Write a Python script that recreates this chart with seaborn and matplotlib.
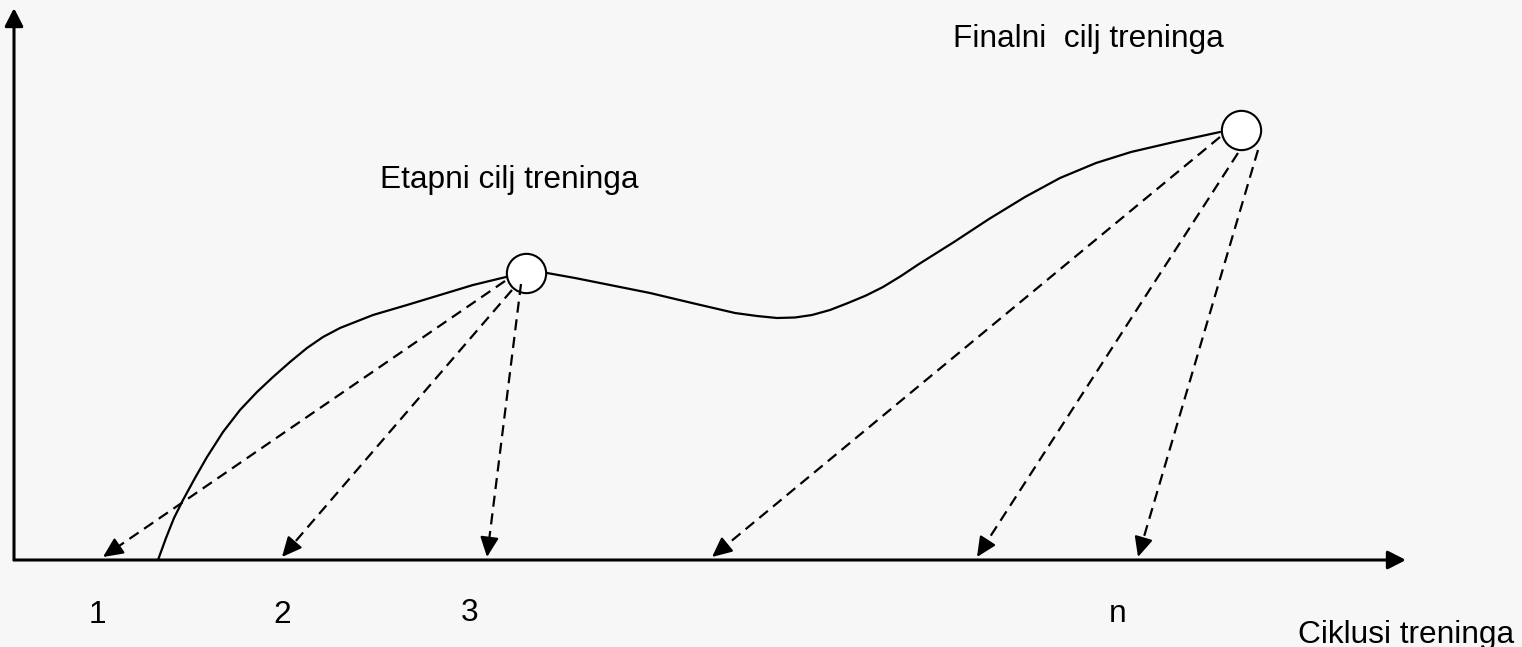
import numpy as np
import pandas as pd
import seaborn as sns
import matplotlib.pyplot as plt

# --- diagram data (pixel space of the original slide, y grows downward) ---
rise_x = [158, 166, 174, 183, 195, 207, 223, 240, 257, 273, 290, 307, 323, 340, 373, 407, 440, 473, 506]
rise_y = [560, 538, 518, 500, 478, 457, 432, 410, 392, 377, 362, 348, 337, 328, 315, 305, 295, 285, 277]

wave_x = [547, 575, 600, 625, 650, 692, 735, 757, 777, 795, 812, 830, 848, 866, 883, 901, 919,
          954, 989, 1025, 1060, 1096, 1131, 1174, 1220]
wave_y = [273, 278, 283, 288, 293, 303, 313, 316, 318, 317.5, 315, 310, 303, 295.5, 287, 276, 264,
          242, 219, 197, 178, 163, 152, 142, 132]

goal_names = ["Etapni cilj treninga", "Finalni  cilj treninga"]
goal_x = [526, 1241]
goal_y = [273, 130]

# dashed arrows: from goal circle down to training cycles
arrow_start_x = [505, 512, 521, 1220, 1238, 1258]
arrow_start_y = [281, 290, 284, 137, 153, 150]
arrow_end_x = [103, 282, 487, 712, 977, 1138]
arrow_end_y = [557, 557, 557, 557, 557, 557]

tick_labels = ["1", "2", "3", "n"]
tick_x = [97, 282, 470, 1118]
tick_y = [623, 623, 621, 622]

sns.set_theme(style="white")
plt.rcParams["font.family"] = ["Liberation Sans", "DejaVu Sans"]

W, H = 1522, 647
bg = "#f7f7f7"
fig = plt.figure(figsize=(W / 100, H / 100), dpi=100, facecolor=bg)
ax = fig.add_axes([0, 0, 1, 1])
ax.set_facecolor(bg)
ax.set_xlim(0, W)
ax.set_ylim(H, 0)
ax.axis("off")

# coordinate axes with arrow heads
axis_kw = dict(arrowstyle="-|>,head_length=0.55,head_width=0.28", color="black",
               lw=2.2, mutation_scale=20, shrinkA=0, shrinkB=0, capstyle="butt")
ax.annotate("", xy=(14, 8), xytext=(14, 561), arrowprops=axis_kw)
ax.annotate("", xy=(1406, 560), xytext=(13, 560), arrowprops=axis_kw)

# performance curve
rise = pd.DataFrame({"x": rise_x, "y": rise_y})
wave = pd.DataFrame({"x": wave_x, "y": wave_y})
for seg in (rise, wave):
    sns.lineplot(data=seg, x="x", y="y", sort=False, color="black", lw=1.6, ax=ax,
                 solid_joinstyle="round")

# goal circles
goals = pd.DataFrame({"x": goal_x, "y": goal_y, "goal": goal_names})
sns.scatterplot(data=goals, x="x", y="y", s=800, color="white", edgecolor="black",
                linewidth=1.5, zorder=3, ax=ax, legend=False)

head_kw = dict(arrowstyle="-|>,head_length=0.6,head_width=0.28", color="black", lw=1.6,
               mutation_scale=20, shrinkA=0, shrinkB=0)
for sx, sy, ex, ey in zip(arrow_start_x, arrow_start_y, arrow_end_x, arrow_end_y):
    d = np.array([ex - sx, ey - sy], dtype=float)
    d /= np.hypot(*d)
    bx, by = ex - d[0] * 14, ey - d[1] * 14
    ax.plot([sx, bx], [sy, by], color="black", lw=1.6, linestyle=(0, (5, 3)), zorder=4)
    ax.annotate("", xy=(ex, ey), xytext=(bx, by), arrowprops=head_kw, zorder=4)

# text
fs = 22.8
tc = "black"
ax.text(380, 188, goal_names[0], fontsize=fs, color=tc, ha="left", va="baseline")
ax.text(953, 47, goal_names[1], fontsize=fs, color=tc, ha="left", va="baseline")
ax.text(1298, 643, "Ciklusi treninga", fontsize=fs, color=tc, ha="left", va="baseline")
for lab, tx, ty in zip(tick_labels, tick_x, tick_y):
    ax.text(tx, ty, lab, fontsize=fs, color=tc, ha="center", va="baseline")

fig.savefig("out.png", dpi=100, facecolor=fig.get_facecolor())
